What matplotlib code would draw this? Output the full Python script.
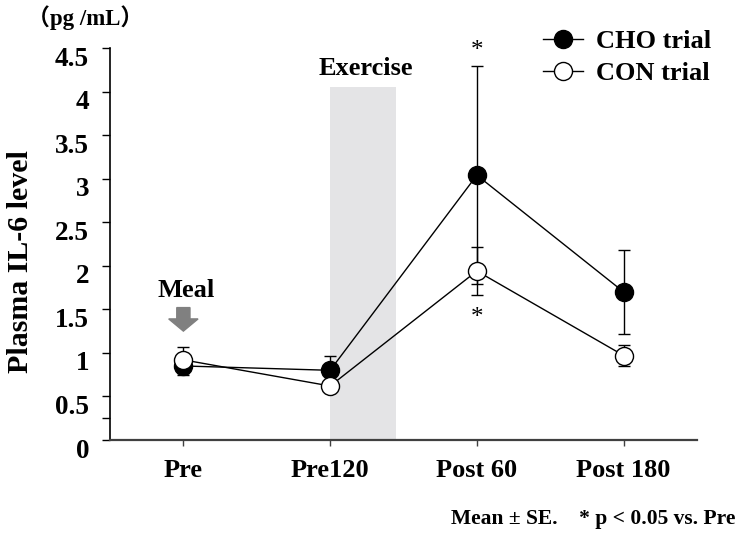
import matplotlib
matplotlib.use("Agg")
import matplotlib.pyplot as plt
import matplotlib.transforms as mtransforms
from matplotlib.lines import Line2D
from matplotlib.patches import FancyArrow

categories = ["Pre", "Pre120", "Post 60", "Post 180"]
cho_mean = [0.85, 0.80, 3.04, 1.70]
cho_se = [0.10, 0.17, 1.25, 0.48]
con_mean = [0.92, 0.62, 1.94, 0.97]
con_se = [0.15, 0.05, 0.28, 0.12]
yticks = [0, 0.5, 1, 1.5, 2, 2.5, 3, 3.5, 4, 4.5]
ytick_labels = ["0", "0.5", "1", "1.5", "2", "2.5", "3", "3.5", "4", "4.5"]

serif = ["Liberation Serif", "DejaVu Serif"]
plt.rcParams["font.family"] = serif
plt.rcParams["font.weight"] = "bold"

fig = plt.figure(figsize=(7.37, 5.34), dpi=100)
ax = fig.add_axes([110 / 737, 1 - 440 / 534, 587 / 737, 392 / 534])

x = list(range(len(categories)))

# exercise band
ax.fill_between([1.0, 1.45], 0, 4.05, color="#e4e4e6", zorder=0, linewidth=0)
ax.text(1.24, 4.27, "Exercise", ha="center", va="center", fontsize=19, fontweight="bold")

# CHO
ax.errorbar(x, cho_mean, yerr=cho_se, color="black", lw=1.0, elinewidth=1.0,
            capsize=4, capthick=1.0, marker="o", ms=13, mfc="black", mec="black",
            mew=1.0, zorder=3)
# CON
ax.errorbar(x, con_mean, yerr=con_se, color="black", lw=1.0, elinewidth=1.0,
            capsize=4, capthick=1.0, marker="o", ms=13, mfc="white", mec="black",
            mew=1.0, zorder=4)

# significance
ax.text(2, 4.47, "*", ha="center", va="center", fontsize=18, fontweight="normal")
ax.text(2, 1.40, "*", ha="center", va="center", fontsize=18, fontweight="normal")

# meal
ax.text(0.02, 1.72, "Meal", ha="center", va="center", fontsize=19, fontweight="bold")
ax.add_patch(FancyArrow(0, 1.52, 0, -0.27, width=0.09, head_width=0.2,
                        head_length=0.14, length_includes_head=True,
                        color="#808080", zorder=2))

ax.set_xlim(-0.5, 3.5)
ax.set_ylim(0, 4.5)
ax.set_xticks(x)
ax.set_xticklabels(categories, fontsize=19, fontweight="bold")
ax.set_yticks(yticks)
ax.set_yticklabels(ytick_labels, fontsize=19.5, fontweight="bold")
ax.set_yticks([0.25], minor=True)

for s in ["top", "right"]:
    ax.spines[s].set_visible(False)
ax.spines["left"].set_linewidth(1.2)
ax.spines["bottom"].set_linewidth(1.6)
ax.spines["bottom"].set_color("#404040")

ax.tick_params(axis="y", which="both", direction="out", length=6, width=1.0, pad=9)
ax.tick_params(axis="x", direction="out", length=4, width=1.0, pad=10, color="#404040")

offset = mtransforms.ScaledTranslation(0, -8 / 100, fig.dpi_scale_trans)
for lab in ax.get_yticklabels():
    lab.set_transform(lab.get_transform() + offset)

fig.text(21 / 737, 1 - 262 / 534, "Plasma IL-6 level", rotation=90, ha="center",
         va="center", fontsize=21.5, fontweight="bold")
fig.text(85 / 737, 1 - 18 / 534, "（pg /mL）", ha="center", va="center",
         fontsize=16.5, fontweight="bold",
         family=["Liberation Serif", "Noto Sans CJK JP"])
fig.text(735 / 737, 1 - 519 / 534, "Mean ± SE.    * p < 0.05 vs. Pre", ha="right",
         va="center", fontsize=15.5, fontweight="bold")

handles = [
    Line2D([], [], color="black", lw=1.0, marker="o", ms=13, mfc="black", mec="black"),
    Line2D([], [], color="black", lw=1.0, marker="o", ms=13, mfc="white", mec="black"),
]
fig.legend(handles, ["CHO trial", "CON trial"], loc="upper left",
           bbox_to_anchor=(543 / 737, 1 - 30 / 534), frameon=False,
           prop={"size": 19, "weight": "bold"}, handlelength=1.5,
           handletextpad=0.5, labelspacing=0.3, borderpad=0, borderaxespad=0)

fig.savefig("out.png", dpi=100)
